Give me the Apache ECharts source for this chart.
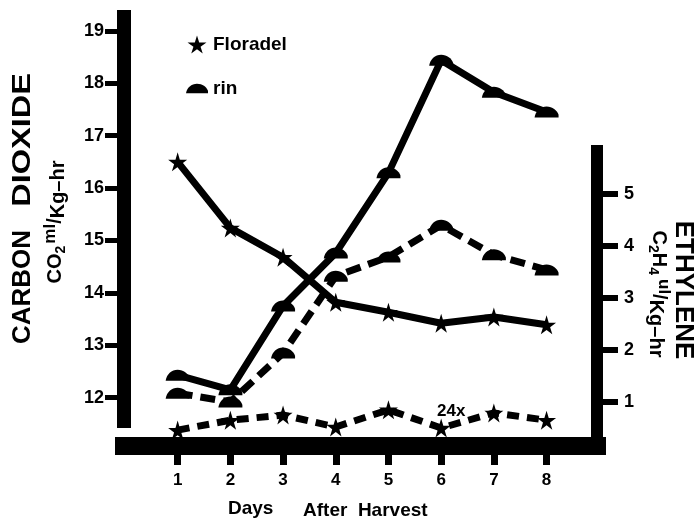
<!DOCTYPE html>
<html><head><meta charset="utf-8">
<script src="https://cdn.jsdelivr.net/npm/echarts@6/dist/echarts.min.js"></script>
<style>html,body{margin:0;padding:0;background:#fff}#c{width:697px;height:521px}</style>
</head><body><div id="c"></div>
<script>
const days = [1, 2, 3, 4, 5, 6, 7, 8];
const floradelCO2 = [16.5, 15.24, 14.68, 13.82, 13.63, 13.42, 13.54, 13.39];
const rinCO2 = [12.43, 12.15, 13.75, 14.76, 16.29, 18.44, 17.83, 17.45];
const floradelC2H4 = [0.46, 0.65, 0.75, 0.52, 0.85, 0.50, 0.79, 0.65];
const rinC2H4 = [1.17, 1.0, 1.94, 3.42, 3.79, 4.40, 3.83, 3.54];
const co2Ticks = [12, 13, 14, 15, 16, 17, 18, 19];
const c2h4Ticks = [1, 2, 3, 4, 5];
const dayTicks = [1, 2, 3, 4, 5, 6, 7, 8];
const seriesNames = ['Floradel', 'rin'];
const noteLabel = '24x';
const noteDay = 6;

const FONT = "'Liberation Sans', Arial, sans-serif";
const STAR = 'path://M50,0 L61,35 L98,35 L68,57 L79,91 L50,70 L21,91 L32,57 L2,35 L39,35 Z';
const DOME = 'path://M0,12 C1,5 7,0 14,0 C21,0 26,4 28,9 L28,12 Z';

const pairs = (ys) => days.map((d, i) => [d, ys[i]]);

const chart = echarts.init(document.getElementById('c'), null, {renderer: 'canvas'});
const xRange = {min: -0.018, max: 8.957};

chart.setOption({
  animation: false,
  backgroundColor: '#fff',
  color: ['#000'],
  legend: {
    orient: 'vertical', left: 186, top: 35, itemWidth: 22, itemHeight: 18, itemGap: 25,
    padding: 0,
    data: [{name: seriesNames[0], icon: STAR}, {name: seriesNames[1], icon: DOME}],
    textStyle: {fontFamily: FONT, fontWeight: 'bold', fontSize: 19, color: '#000'}
  },
  grid: [
    {left: 124, right: 100, top: 10, bottom: 93},
    {left: 124, right: 100, top: 145, bottom: 75}
  ],
  xAxis: [
    {type: 'value', gridIndex: 0, show: false, min: xRange.min, max: xRange.max},
    {type: 'value', gridIndex: 1, position: 'bottom', min: xRange.min, max: xRange.max,
     splitLine: {show: false},
     axisLine: {show: true, onZero: false, lineStyle: {color: '#000', width: 18, cap: 'square'}},
     axisTick: {show: true, length: 19, lineStyle: {color: '#000', width: 7}, customValues: dayTicks},
     axisLabel: {show: true, margin: 26, customValues: dayTicks, color: '#000',
                 fontFamily: FONT, fontWeight: 'bold', fontSize: 17}}
  ],
  yAxis: [
    {type: 'value', gridIndex: 0, position: 'left', min: 11.421, max: 19.398,
     splitLine: {show: false},
     axisLine: {show: true, onZero: false, lineStyle: {color: '#000', width: 14, cap: 'butt'}},
     axisTick: {show: true, length: 19, lineStyle: {color: '#000', width: 5}, customValues: co2Ticks},
     axisLabel: {show: true, margin: 20, customValues: co2Ticks, color: '#000',
                 fontFamily: FONT, fontWeight: 'bold', fontSize: 18}},
    {type: 'value', gridIndex: 1, position: 'right', min: 0.154, max: 5.942,
     splitLine: {show: false},
     axisLine: {show: true, onZero: false, lineStyle: {color: '#000', width: 12, cap: 'butt'}},
     axisTick: {show: true, length: 21, lineStyle: {color: '#000', width: 6}, customValues: c2h4Ticks},
     axisLabel: {show: true, margin: 27, customValues: c2h4Ticks, color: '#000',
                 fontFamily: FONT, fontWeight: 'bold', fontSize: 18}}
  ],
  series: [
    {name: seriesNames[0], type: 'line', xAxisIndex: 0, yAxisIndex: 0, data: pairs(floradelCO2),
     symbol: STAR, symbolSize: 19, itemStyle: {color: '#000'},
     lineStyle: {color: '#000', width: 7}},
    {name: seriesNames[1], type: 'line', xAxisIndex: 0, yAxisIndex: 0, data: pairs(rinCO2),
     symbol: DOME, symbolSize: [24, 11], itemStyle: {color: '#000'},
     lineStyle: {color: '#000', width: 7}},
    {name: seriesNames[0], type: 'line', xAxisIndex: 1, yAxisIndex: 1,
     data: pairs(floradelC2H4).map((p) => p[0] === noteDay ? {value: p, label: {show: true, formatter: noteLabel}} : p),
     symbol: STAR, symbolSize: 19, itemStyle: {color: '#000'},
     label: {show: false, position: 'top', offset: [10, 6], color: '#000',
             fontFamily: FONT, fontWeight: 'bold', fontSize: 17},
     lineStyle: {color: '#000', width: 7, type: [12, 8]}},
    {name: seriesNames[1], type: 'line', xAxisIndex: 1, yAxisIndex: 1, data: pairs(rinC2H4),
     symbol: DOME, symbolSize: [24, 11], itemStyle: {color: '#000'},
     lineStyle: {color: '#000', width: 7, type: [15, 8]}}
  ],
  graphic: [
    {type: 'text', x: 23, y: 287, rotation: Math.PI / 2,
     style: {text: 'CARBON', font: "bold 26px " + FONT, fill: '#000', align: 'center', verticalAlign: 'middle'}},
    {type: 'text', x: 23, y: 140, rotation: Math.PI / 2, scaleX: 1.25,
     style: {text: 'DIOXIDE', font: "bold 26px " + FONT, fill: '#000', align: 'center', verticalAlign: 'middle'}},
    {type: 'text', x: 55, y: 222, rotation: Math.PI / 2,
     style: {text: '{a|CO}{s|2}{p|ml}{a|/}{q|Kg–hr}', fill: '#000', align: 'center', verticalAlign: 'middle',
       rich: {
         a: {fontFamily: FONT, fontWeight: 'bold', fontSize: 20, lineHeight: 26, verticalAlign: 'middle', fill: '#000', color: '#000'},
         s: {fontFamily: FONT, fontWeight: 'bold', fontSize: 14, lineHeight: 13, verticalAlign: 'bottom', fill: '#000', color: '#000', padding: [0, 2, 0, 0]},
         p: {fontFamily: FONT, fontWeight: 'bold', fontSize: 17, lineHeight: 16, verticalAlign: 'top', fill: '#000', color: '#000'},
         q: {fontFamily: FONT, fontWeight: 'bold', fontSize: 20, lineHeight: 18, verticalAlign: 'bottom', fill: '#000', color: '#000'}
       }}},
    {type: 'text', x: 683, y: 290, rotation: -Math.PI / 2,
     style: {text: 'ETHYLENE', font: "bold 26px " + FONT, fill: '#000', align: 'center', verticalAlign: 'middle'}},
    {type: 'text', x: 659, y: 294, rotation: -Math.PI / 2,
     style: {text: '{a|C}{s|2}{a|H}{s|4}{p|ul}{a|/}{q|Kg–hr}', fill: '#000', align: 'center', verticalAlign: 'middle',
       rich: {
         a: {fontFamily: FONT, fontWeight: 'bold', fontSize: 20, lineHeight: 26, verticalAlign: 'middle', fill: '#000', color: '#000'},
         s: {fontFamily: FONT, fontWeight: 'bold', fontSize: 14, lineHeight: 13, verticalAlign: 'bottom', fill: '#000', color: '#000'},
         p: {fontFamily: FONT, fontWeight: 'bold', fontSize: 17, lineHeight: 16, verticalAlign: 'top', fill: '#000', color: '#000', padding: [0, 0, 0, 4]},
         q: {fontFamily: FONT, fontWeight: 'bold', fontSize: 20, lineHeight: 18, verticalAlign: 'bottom', fill: '#000', color: '#000'}
       }}},
    {type: 'text', x: 228, y: 509,
     style: {text: 'Days', font: "bold 19px " + FONT, fill: '#000', align: 'left', verticalAlign: 'middle'}},
    {type: 'text', x: 303, y: 511,
     style: {text: 'After  Harvest', font: "bold 19px " + FONT, fill: '#000', align: 'left', verticalAlign: 'middle'}}
  ]
});
</script>
</body></html>
